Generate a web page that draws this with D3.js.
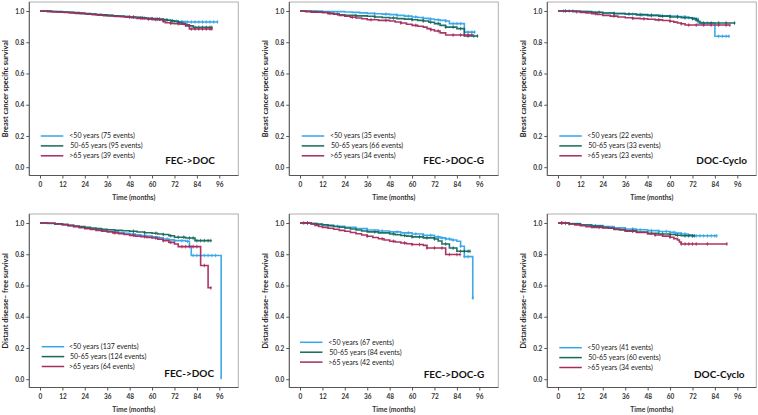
<!DOCTYPE html>
<html><head><meta charset="utf-8">
<script src="https://cdn.jsdelivr.net/npm/d3@7"></script>
<style>body{margin:0;background:#fff}svg{display:block}</style>
</head><body>
<svg id="c" width="758" height="415"></svg>
<script>
// ---------- data ----------
const groups = ["<50 years", "50-65 years", ">65 years"];
const regimens = ["FEC->DOC", "FEC->DOC-G", "DOC-Cyclo"];
const endpoints = ["Breast cancer specific survival", "Distant disease\u2013 free survival"];
const events = [[75, 95, 39], [35, 66, 34], [22, 33, 23], [137, 124, 64], [67, 84, 42], [41, 60, 34]];
const xTicks = [0, 12, 24, 36, 48, 60, 72, 84, 96];
const yTicks = [0, 0.2, 0.4, 0.6, 0.8, 1.0];
const xTitle = "Time (months)";

// Kaplan-Meier steps [month, survival] per panel: [<50, 50-65, >65]
const p1Steps = [
  [[0,1],[3,0.999],[6,0.997],[9,0.995],[12,0.993],[15,0.991],[18,0.988],[21,0.985],[24,0.982],[27,0.98],[30,0.977],[33,0.975],[36,0.972],[39,0.969],[42,0.966],[45,0.964],[48,0.961],[51,0.958],[54,0.955],[57,0.952],[60,0.949],[63,0.947],[66,0.944],[68,0.941],[70,0.938],[72,0.935],[74,0.932],[78,0.93],[95,0.93]],
  [[0,1],[3,0.999],[6,0.997],[9,0.996],[12,0.994],[15,0.992],[18,0.99],[21,0.987],[24,0.984],[27,0.981],[30,0.978],[33,0.975],[36,0.972],[39,0.97],[42,0.967],[45,0.965],[48,0.962],[51,0.96],[54,0.957],[57,0.954],[60,0.951],[63,0.948],[66,0.945],[68,0.941],[70,0.937],[72,0.933],[74,0.928],[76,0.92],[78,0.905],[82,0.895],[92,0.895]],
  [[0,1],[2,0.998],[4,0.996],[7,0.994],[10,0.992],[13,0.99],[16,0.988],[19,0.985],[22,0.982],[25,0.979],[28,0.976],[31,0.973],[34,0.97],[37,0.968],[40,0.965],[43,0.963],[46,0.96],[49,0.957],[52,0.953],[55,0.951],[58,0.948],[61,0.945],[64,0.942],[66,0.935],[67,0.925],[70,0.921],[72,0.918],[75,0.915],[78,0.912],[80,0.885],[92,0.885]]
];
const p2Steps = [
  [[0,1],[6,0.999],[12,0.997],[18,0.996],[24,0.994],[28,0.991],[32,0.988],[36,0.985],[40,0.982],[44,0.98],[48,0.977],[52,0.972],[56,0.967],[60,0.962],[63,0.958],[66,0.953],[69,0.949],[72,0.944],[75,0.94],[78,0.936],[80,0.919],[88,0.865],[93.7,0.865]],
  [[0,1],[3,0.998],[6,0.996],[9,0.994],[12,0.99],[15,0.985],[18,0.98],[21,0.976],[24,0.972],[30,0.969],[36,0.966],[40,0.962],[44,0.958],[48,0.955],[52,0.951],[56,0.948],[60,0.944],[63,0.94],[66,0.936],[69,0.928],[72,0.919],[75,0.908],[78,0.897],[84,0.887],[88,0.84],[95.2,0.84]],
  [[0,1],[3,0.996],[6,0.993],[12,0.99],[15,0.985],[18,0.979],[21,0.972],[24,0.966],[27,0.96],[30,0.955],[33,0.95],[36,0.944],[42,0.94],[48,0.936],[51,0.93],[54,0.923],[57,0.915],[60,0.908],[63,0.902],[66,0.897],[68,0.887],[70,0.88],[72,0.872],[75,0.86],[78,0.846],[92.5,0.846]]
];
const p3Steps = [
  [[0,1],[12,0.997],[16,0.994],[20,0.99],[24,0.987],[30,0.983],[36,0.979],[42,0.975],[48,0.972],[54,0.97],[60,0.968],[64,0.965],[68,0.962],[70,0.957],[72,0.951],[75,0.923],[84,0.838],[91.8,0.838]],
  [[0,1],[8,0.998],[12,0.996],[18,0.992],[24,0.987],[30,0.984],[36,0.981],[42,0.977],[48,0.972],[54,0.967],[60,0.962],[66,0.957],[72,0.951],[74,0.942],[75,0.934],[76,0.923],[94.8,0.923]],
  [[0,1],[6,0.998],[9,0.995],[12,0.991],[15,0.987],[18,0.983],[21,0.978],[24,0.972],[28,0.967],[32,0.962],[36,0.957],[40,0.953],[44,0.95],[48,0.947],[52,0.943],[56,0.939],[60,0.934],[62,0.929],[64,0.923],[66,0.918],[68,0.91],[92,0.91]]
];
const p4Steps = [
  [[0,1],[4,0.997],[8,0.993],[12,0.989],[15,0.983],[18,0.978],[21,0.973],[24,0.968],[27,0.963],[30,0.958],[33,0.952],[36,0.947],[39,0.943],[42,0.938],[45,0.934],[48,0.93],[51,0.925],[54,0.92],[57,0.916],[60,0.911],[63,0.905],[66,0.898],[69,0.892],[72,0.887],[78,0.883],[80,0.851],[81,0.792],[97,0]],
  [[0,1],[4,0.998],[8,0.995],[12,0.991],[15,0.986],[18,0.981],[21,0.977],[24,0.972],[27,0.968],[30,0.964],[33,0.96],[36,0.957],[40,0.953],[44,0.95],[48,0.947],[52,0.942],[56,0.938],[60,0.934],[63,0.93],[66,0.926],[69,0.918],[72,0.909],[78,0.904],[83,0.887],[91.5,0.887]],
  [[0,1],[4,0.998],[8,0.994],[12,0.989],[15,0.983],[18,0.977],[21,0.97],[24,0.964],[27,0.958],[30,0.953],[33,0.948],[36,0.943],[39,0.937],[42,0.932],[45,0.926],[48,0.921],[51,0.916],[54,0.912],[57,0.908],[60,0.904],[63,0.896],[66,0.887],[69,0.876],[72,0.866],[74,0.849],[86,0.728],[90,0.585],[91.5,0.585]]
];
const p5Steps = [
  [[0,1],[6,0.996],[9,0.99],[12,0.985],[18,0.979],[24,0.972],[30,0.964],[36,0.955],[42,0.949],[48,0.943],[54,0.937],[60,0.93],[66,0.921],[72,0.911],[75,0.905],[78,0.898],[81,0.891],[84,0.883],[86,0.851],[88,0.785],[92.5,0.52],[93,0.52]],
  [[0,1],[6,0.996],[9,0.993],[12,0.989],[15,0.983],[18,0.978],[21,0.973],[24,0.968],[27,0.962],[30,0.955],[33,0.949],[36,0.943],[42,0.937],[48,0.93],[51,0.925],[54,0.92],[57,0.916],[60,0.911],[66,0.905],[72,0.898],[74,0.885],[76,0.866],[80,0.84],[84,0.819],[91,0.819]],
  [[0,1],[6,0.994],[8,0.985],[10,0.978],[12,0.972],[15,0.966],[18,0.96],[21,0.953],[24,0.947],[27,0.939],[30,0.931],[33,0.923],[36,0.915],[39,0.907],[42,0.899],[45,0.891],[48,0.883],[51,0.878],[54,0.872],[57,0.867],[60,0.862],[66,0.857],[68,0.84],[78,0.798],[85.7,0.798]]
];
const p6Steps = [
  [[0,1],[6,0.996],[12,0.989],[18,0.983],[24,0.977],[30,0.969],[36,0.962],[42,0.957],[48,0.951],[54,0.946],[60,0.94],[63,0.935],[66,0.93],[69,0.924],[72,0.918],[85,0.918]],
  [[0,1],[6,0.995],[12,0.987],[18,0.98],[24,0.972],[27,0.967],[30,0.961],[33,0.956],[36,0.951],[42,0.942],[48,0.934],[54,0.93],[60,0.926],[63,0.922],[66,0.918],[73,0.918]],
  [[0,1],[4,0.998],[6,0.994],[9,0.988],[12,0.983],[15,0.977],[18,0.972],[24,0.968],[30,0.958],[36,0.947],[42,0.939],[48,0.93],[52,0.923],[56,0.916],[60,0.909],[62,0.9],[64,0.891],[65,0.878],[66,0.866],[90.4,0.866]]
];

// censored observations (months) per panel: [<50, 50-65, >65]
const p1Cens = [
  [52,56,60,63,66,70,73,76,79,81,83,85,87,89,91,93,95],
  [50,55,60,64,68,71,74,77,80,83,85,87,89,91,92],
  [48,54,58,62,66,70,74,78,81,83,85,87,89,91,92]
];
const p2Cens = [
  [40,46,52,58,62,66,70,74,78,82,84,86,90,92,93.5],
  [20,30,40,50,60,66,70,74,78,82,86,90,93,95],
  [16,28,38,46,54,62,70,74,82,86,88,90,92]
];
const p3Cens = [
  [3,6,30,40,45,50,55,60,64,68,70,73,77,80,86,88,90,91.5],
  [4,8,22,30,38,44,50,56,60,64,68,72,74,78,82,86,90,94.5],
  [10,20,30,40,46,54,60,66,70,74,78,82,86,90,92]
];
const p4Cens = [
  [50,56,60,64,68,72,76,79,82,84,86,88,90,92,94],
  [50,56,62,66,70,74,77,80,82,84,86,88,90,91.5],
  [40,50,56,62,66,70,76,78,80,82,84,88,91.5]
];
const p5Cens = [
  [4,20,36,44,52,58,62,66,70,74,76,78,80,82,86,88,90,92.5],
  [40,50,56,60,64,68,72,78,82,86,88,90,91],
  [2,4,36,44,50,56,60,64,68,72,76,80,84,85.7]
];
const p6Cens = [
  [36,40,44,50,54,58,62,66,68,70,72,74,76,78,80,82,84,85],
  [2,6,20,40,50,56,60,64,68,70,72,73],
  [2,4,22,40,52,60,66,68,70,72,74,80,90.4]
];

// ---------- layout / style ----------
const colors = ["#35a5e8", "#16695b", "#a62a5d"];
const steps = [p1Steps, p2Steps, p3Steps, p4Steps, p5Steps, p6Steps];
const cens = [p1Cens, p2Cens, p3Cens, p4Cens, p5Cens, p6Cens];
const lefts = [29.3, 289.3, 547.3];
const tops = [2, 214];
const W = 209, H = 173.5;
const legendPos = [[11.5, 40, 134], [12.4, 40.7, 134], [12, 40, 134], [12.4, 39.7, 132.7], [10.7, 39, 128.3], [12, 40, 133.7]];
const labelPos = [[160.7, 158.7], [164.4, 158.7], [174.4, 158.7], [159.9, 159.3], [164.7, 160], [172, 160.3]];
const FONT = "Lato, 'Open Sans', sans-serif";

const svg = d3.select("#c");

for (let pi = 0; pi < 6; pi++) {
  const col = pi % 3, row = Math.floor(pi / 3);
  const L = lefts[col], T = tops[row];
  const g = svg.append("g").attr("transform", `translate(${L},${T})`);
  const x = d3.scaleLinear().domain([0, 96]).range([10.7, 190]);
  const y = d3.scaleLinear().domain([0, 1]).range([165.2, 9]);

  // frame
  g.append("rect").attr("x", 0).attr("y", 0).attr("width", W).attr("height", H)
    .attr("fill", "none").attr("stroke", "#b0b0b0").attr("stroke-width", 1);

  // axes
  const ya = g.append("g").call(d3.axisLeft(y).tickValues(yTicks).tickFormat(d3.format(".1f")).tickSize(3).tickPadding(2));
  const xa = g.append("g").attr("transform", `translate(0,${H})`)
    .call(d3.axisBottom(x).tickValues(xTicks).tickFormat(d3.format("d")).tickSize(3).tickPadding(4));
  [ya, xa].forEach(a => {
    a.select(".domain").attr("stroke", "#555");
    a.selectAll(".tick line").attr("stroke", "#555");
    a.selectAll(".tick text").attr("font-family", FONT).attr("font-size", 6.5)
      .attr("font-weight", 700).attr("fill", "#333");
  });
  xa.select(".domain").attr("d", `M0,0H${W}`);
  ya.select(".domain").attr("d", `M0,0V${H}`);

  // axis titles
  g.append("text").attr("x", W / 2).attr("y", H + 22).attr("text-anchor", "middle")
    .attr("dy", "0.35em").attr("font-family", FONT).attr("font-size", 6.8).attr("font-weight", 700)
    .attr("fill", "#333").text(xTitle);
  g.append("text").attr("transform", `translate(-24.3,${H / 2}) rotate(-90)`)
    .attr("text-anchor", "middle").attr("dy", "0.35em").attr("font-family", FONT)
    .attr("font-size", 7.3).attr("font-weight", 700).attr("fill", "#222").text(endpoints[row]);

  // curves
  const line = d3.line().x(d => x(d[0])).y(d => y(d[1])).curve(d3.curveStepAfter);
  [0, 1, 2].forEach(k => {
    const data = steps[pi][k];
    g.append("path").datum(data).attr("d", line).attr("fill", "none")
      .attr("stroke", colors[k]).attr("stroke-width", 1.6).attr("opacity", 0.95);
    const surv = t => { let s = 1; for (const p of data) { if (p[0] <= t) s = p[1]; } return s; };
    g.append("g").selectAll("path").data(cens[pi][k]).join("path")
      .attr("d", t => `M${x(t)},${y(surv(t)) - 1.8}V${y(surv(t)) + 1.8}M${x(t) - 1.2},${y(surv(t))}H${x(t) + 1.2}`)
      .attr("stroke", colors[k]).attr("stroke-width", 0.8).attr("fill", "none");
  });

  // legend
  const [lx, tx, ly] = legendPos[pi];
  groups.forEach((gr, k) => {
    const yy = ly + k * 9.9;
    g.append("line").attr("x1", lx).attr("x2", lx + 22.5).attr("y1", yy).attr("y2", yy)
      .attr("stroke", colors[k]).attr("stroke-width", 1.5);
    g.append("text").attr("x", tx + (k === 1 ? 1 : 0)).attr("y", yy).attr("dy", "0.35em")
      .attr("font-family", FONT).attr("font-size", 7).attr("fill", "#222")
      .text(`${gr} (${events[pi][k]} events)`);
  });

  // panel label
  const [cx, cy] = labelPos[pi];
  g.append("text").attr("x", cx).attr("y", cy).attr("dy", "0.35em").attr("text-anchor", "middle")
    .attr("font-family", FONT).attr("font-size", 10).attr("font-weight", 700).attr("fill", "#111")
    .text(regimens[col]);
}
</script>
</body></html>
